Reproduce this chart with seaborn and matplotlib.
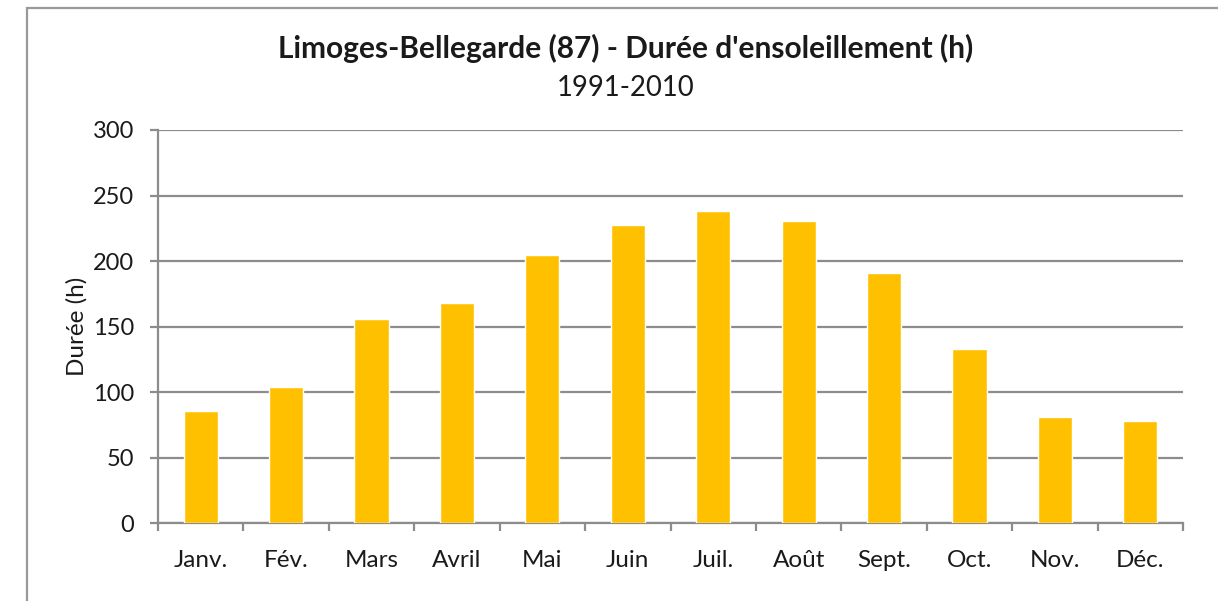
import matplotlib
matplotlib.use("Agg")
import matplotlib.pyplot as plt
from matplotlib.patches import Rectangle
import seaborn as sns
import pandas as pd

# Monthly sunshine duration, Limoges-Bellegarde, 1991-2010 normals
months = ["Janv.", "Fév.", "Mars", "Avril", "Mai", "Juin",
          "Juil.", "Août", "Sept.", "Oct.", "Nov.", "Déc."]
sunshine_hours = [85.7, 104.0, 155.8, 168.0, 204.7, 227.5,
                  238.2, 230.6, 191.2, 133.0, 81.3, 78.3]
y_ticks = [0, 50, 100, 150, 200, 250, 300]

title = "Limoges-Bellegarde (87) - Durée d'ensoleillement (h)"
subtitle = "1991-2010"
y_label = "Durée (h)"

df = pd.DataFrame({"mois": months, "duree": sunshine_hours})

sns.set_theme(style="white")
plt.rcParams["font.family"] = ["Lato", "DejaVu Sans"]

W, H = 1218, 601
fig = plt.figure(figsize=(W / 100, H / 100), dpi=100)
fig.patch.set_facecolor("white")

grid_col = "#8c8c8c"
ax = fig.add_axes([158 / W, 1 - 523.3 / H, (1183 - 158) / W, (523.3 - 130) / H])

sns.barplot(data=df, x="mois", y="duree", color="#FFC000", saturation=1,
            width=0.4, ax=ax, zorder=3)

ax.set_xlim(-0.5, len(months) - 0.5)
ax.set_ylim(0, 300)
ax.set_yticks(y_ticks)
ax.set_yticklabels([str(v) for v in y_ticks])
ax.yaxis.grid(True, color=grid_col, linewidth=1.6, zorder=0)
ax.set_axisbelow(True)

# category boundary ticks on the x axis
ax.set_xticks(range(len(months)))
ax.set_xticklabels(months)
ax.tick_params(axis="x", which="major", length=0, pad=19, labelsize=17.5,
               labelcolor="#1a1a1a")
ax.set_xticks([i - 0.5 for i in range(len(months) + 1)], minor=True)
ax.tick_params(axis="x", which="minor", length=6, width=1.6, color=grid_col,
               direction="out", bottom=True)
ax.tick_params(axis="y", length=6, width=1.6, color=grid_col, pad=11,
               labelsize=17, labelcolor="#1a1a1a", left=True)

for side in ["top", "right"]:
    ax.spines[side].set_visible(False)
for side in ["left", "bottom"]:
    ax.spines[side].set_color(grid_col)
    ax.spines[side].set_linewidth(1.6)

ax.set_xlabel("")
ax.set_ylabel(y_label, fontsize=17.5, color="#1a1a1a", labelpad=4)

fig.text(625.5 / W, 1 - 48 / H, title, ha="center", va="center",
         fontsize=21.5, fontweight="bold", color="#1a1a1a")
fig.text(625.5 / W, 1 - 88 / H, subtitle, ha="center", va="center",
         fontsize=19.8, color="#1a1a1a")

# chart frame
fig.add_artist(Rectangle((27 / W, -0.1), 1.2, 1.1 - 8 / H,
                         transform=fig.transFigure, fill=False,
                         edgecolor="#999999", linewidth=1.6))

fig.savefig("out.png", dpi=100, facecolor="white")
